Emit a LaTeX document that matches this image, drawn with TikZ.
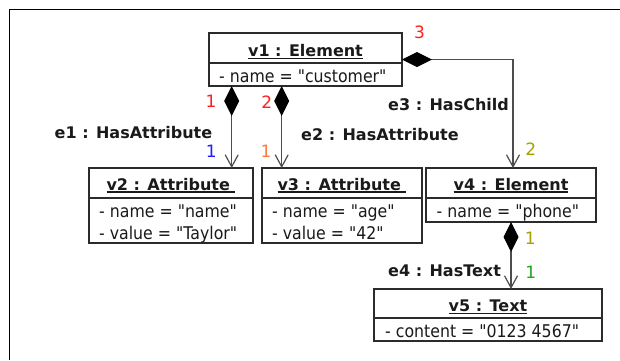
\documentclass[tikz,border=0pt]{standalone}
\usepackage{fontspec}
\setmainfont{DejaVu Sans}
\newfontfamily\attrfont{DejaVu Sans}[FakeStretch=0.9]
\usetikzlibrary{arrows.meta}
\definecolor{ink}{HTML}{1A1A1A}
\definecolor{edgegray}{HTML}{4D4D4D}
\definecolor{boxline}{HTML}{2B2B2B}
\definecolor{mred}{HTML}{FF1F1F}
\definecolor{mblue}{HTML}{1F1FFF}
\definecolor{morange}{HTML}{FF7A3D}
\definecolor{molive}{HTML}{A89F00}
\definecolor{mgreen}{HTML}{1FA81F}
% underlined object title with a fixed rule
\newcommand\titleline[1]{\setbox0=\hbox{#1}\rlap{\rule[-2.6pt]{\wd0}{1.2pt}}\box0}
\begin{document}
\begin{tikzpicture}[x=1pt,y=-1pt,
  umlbox/.style={draw=boxline, line width=1.4pt, inner sep=0pt, outer sep=0pt, fill=white},
  divider/.style={draw=boxline, line width=1.4pt},
  title/.style={font=\fontsize{16}{19}\selectfont\bfseries, text=ink, inner sep=0pt, anchor=base},
  attr/.style={font=\attrfont\fontsize{17.5}{21}\selectfont, text=ink, inner sep=0pt, anchor=base west},
  elabel/.style={font=\fontsize{16}{19}\selectfont\bfseries, text=ink, inner sep=0pt, anchor=base west},
  mult/.style={font=\fontsize{17}{20}\selectfont, inner sep=0pt},
  comp/.style={draw=edgegray, line width=1.2pt,
    {Diamond[length=30pt,width=15pt,fill=black,color=black]}-{Straight Barb[length=12pt,width=13pt]}}]
\useasboundingbox (0,0) rectangle (620,360);
% page frame
\draw[line width=1.4pt, black] (9.5,360) -- (9.5,9.5) -- (620,9.5);

% object boxes
\node[umlbox, minimum width=193pt, minimum height=53pt] (v1) at (305.5,59.5) {};
\node[umlbox, minimum width=164pt, minimum height=75pt] (v2) at (171,205.5) {};
\node[umlbox, minimum width=160pt, minimum height=75pt] (v3) at (342,205.5) {};
\node[umlbox, minimum width=170pt, minimum height=54pt] (v4) at (511,195) {};
\node[umlbox, minimum width=228pt, minimum height=52pt] (v5) at (488,315) {};
\draw[divider] (209,63) -- (402,63);
\draw[divider] (89,198) -- (253,198);
\draw[divider] (262,198) -- (422,198);
\draw[divider] (426,198) -- (596,198);
\draw[divider] (374,318) -- (602,318);

% titles
\node[title] (t1) at (305.5,56.5) {\titleline{v1 : Element}};
\node[title] (t2) at (171,190) {\titleline{v2 : Attribute\ }};
\node[title] (t3) at (342,190) {\titleline{v3 : Attribute\ }};
\node[title] (t4) at (511,190) {\titleline{v4 : Element}};
\node[title] (t5) at (488,311.5) {\titleline{v5 : Text}};

% attributes
\node[attr] (a1) at (219,82.5) {- name = "customer"};
\node[attr] (a2a) at (99,217.5) {- name = "name"};
\node[attr] (a2b) at (99,239) {- value = "Taylor"};
\node[attr] (a3a) at (272,217.5) {- name = "age"};
\node[attr] (a3b) at (272,239) {- value = "42"};
\node[attr] (a4) at (436.5,217) {- name = "phone"};
\node[attr] (a5) at (385,337.5) {- content = "0123 4567"};

% composition links
\coordinate (x1) at (231.7,0);
\coordinate (x2) at (281.7,0);
\coordinate (x3) at (513,0);
\draw[comp] (x1 |- v1.south) -- (x1 |- v2.north);
\draw[comp] (x2 |- v1.south) -- (x2 |- v3.north);
\draw[comp] (v1.east) -| (x3 |- v4.north);
\draw[comp] (v4.south) -- (v4.south |- v5.north);

% link names
\node[elabel] (e1) at (54.5,138) {e1 : HasAttribute};
\node[elabel] (e2) at (301,140.5) {e2 : HasAttribute};
\node[elabel] (e3) at (388,110.5) {e3 : HasChild};
\node[elabel] (e4) at (388,276) {e4 : HasText};

% multiplicities
\node[mult, text=mred] (m1) at (211,101.7) {1};
\node[mult, text=mred] (m2) at (266.7,101.7) {2};
\node[mult, text=mblue] (m3) at (211.3,151.7) {1};
\node[mult, text=morange] (m4) at (266,151.7) {1};
\node[mult, text=mred] (m5) at (419.5,32.2) {3};
\node[mult, text=molive] (m6) at (530.8,149.3) {2};
\node[mult, text=molive] (m7) at (530.3,238.3) {1};
\node[mult, text=mgreen] (m8) at (530.7,272.5) {1};
\end{tikzpicture}
\end{document}
